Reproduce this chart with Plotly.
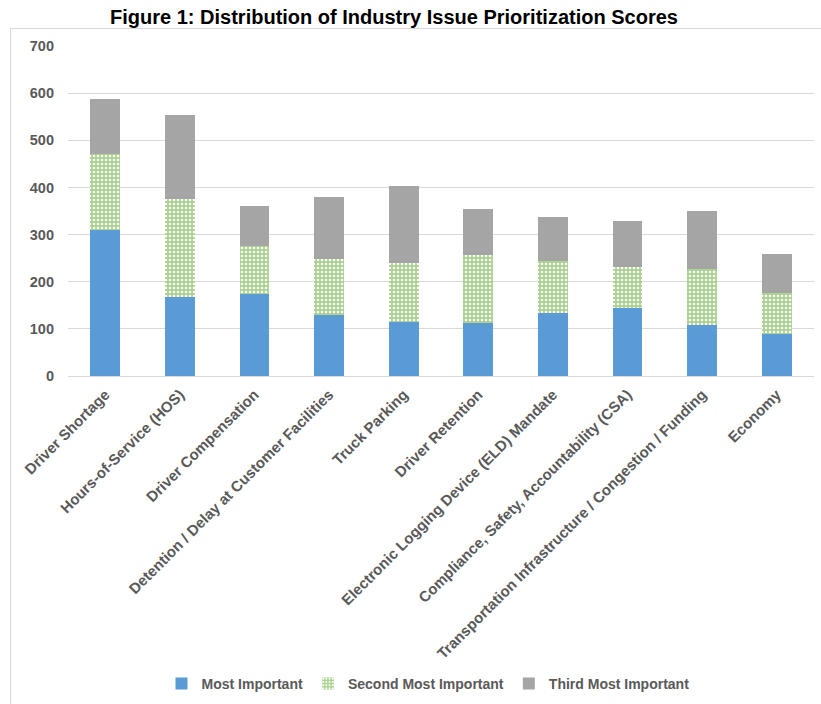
import plotly.graph_objects as go

# Issue categories and prioritization score components
issues = [
    "Driver Shortage",
    "Hours-of-Service (HOS)",
    "Driver Compensation",
    "Detention / Delay at Customer Facilities",
    "Truck Parking",
    "Driver Retention",
    "Electronic Logging Device (ELD) Mandate",
    "Compliance, Safety, Accountability (CSA)",
    "Transportation Infrastructure / Congestion / Funding",
    "Economy",
]
most_important = [310, 168, 174, 129, 115, 112, 133, 145, 109, 90]
second_most = [160, 208, 102, 120, 124, 145, 111, 87, 119, 87]
third_most = [117, 178, 85, 131, 164, 97, 94, 97, 123, 81]
y_ticks = [0, 100, 200, 300, 400, 500, 600, 700]

W, H = 821, 704
L, R, T, B = 68, 7, 46, 328
pw, ph = W - L - R, H - T - B

def px_x(p):
    return (p - L) / pw

def px_y(p):
    return (H - B - p) / ph

def label_font(size):
    return dict(family="Liberation Sans, Arial, sans-serif", size=size,
                color="#595959", weight="bold")

fig = go.Figure()
fig.add_trace(go.Bar(
    x=issues, y=most_important, name="Most Important",
    marker=dict(color="#5B9BD5", line=dict(width=0)),
))
fig.add_trace(go.Bar(
    x=issues, y=second_most, name="Second Most Important",
    marker=dict(color="#A9D18E", line=dict(width=0),
                pattern=dict(shape=".", fillmode="replace", bgcolor="#A9D18E",
                             fgcolor="#FFFFFF", size=4, solidity=0.35)),
))
fig.add_trace(go.Bar(
    x=issues, y=third_most, name="Third Most Important",
    marker=dict(color="#A5A5A5", line=dict(width=0)),
))

fig.update_layout(
    barmode="stack",
    bargap=0.6,
    width=W, height=H,
    margin=dict(l=L, r=R, t=T, b=B, autoexpand=False),
    paper_bgcolor="white",
    plot_bgcolor="white",
    title=dict(
        text="<b>Figure 1: Distribution of Industry Issue Prioritization Scores</b>",
        font=dict(family="Liberation Sans Narrow, Arial Narrow, Liberation Sans, sans-serif",
                  size=20, color="black"),
        x=394 / W, xanchor="center", xref="container",
        y=1 - 17 / H, yanchor="middle", yref="container",
    ),
    xaxis=dict(
        tickangle=-45,
        tickfont=label_font(15),
        showgrid=False,
        showline=False,
        ticks="",
        ticklabelstandoff=6,
        automargin=False,
    ),
    yaxis=dict(
        range=[0, 700],
        tickvals=y_ticks,
        tickfont=label_font(14.5),
        showgrid=True,
        gridcolor="#D9D9D9",
        gridwidth=1,
        zeroline=True,
        zerolinecolor="#D9D9D9",
        zerolinewidth=1,
        showline=False,
        ticks="",
        ticklabelstandoff=13,
        automargin=False,
    ),
    legend=dict(
        orientation="h",
        x=px_x(428), xanchor="center",
        y=px_y(684), yanchor="middle",
        font=label_font(14),
        traceorder="normal",
        itemwidth=30,
    ),
    showlegend=True,
    shapes=[dict(
        type="rect", xref="paper", yref="paper",
        x0=px_x(10.5), x1=px_x(835), y0=px_y(720), y1=px_y(28.5),
        line=dict(color="#D9D9D9", width=1), fillcolor="rgba(0,0,0,0)",
        layer="below",
    )],
)

fig.write_html("out.html")
